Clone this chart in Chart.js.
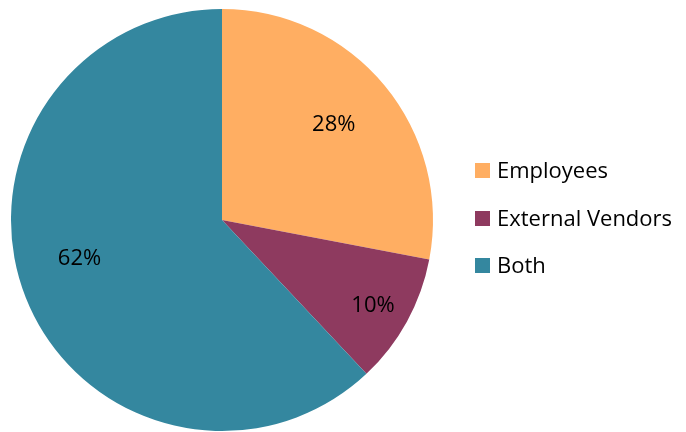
<!DOCTYPE html>
<html lang="en">
<head>
  <meta charset="UTF-8">
  <title>Who handles it</title>
  <script src="https://cdn.jsdelivr.net/npm/chart.js"></script>
  <style>
    html, body { margin: 0; padding: 0; background: #fff; }
    #wrap { width: 686px; height: 432px; }
  </style>
</head>
<body>
  <div id="wrap"><canvas id="pieChart" width="686" height="432"></canvas></div>

<script>
// categories and shares (percent)
const categories = ['Employees', 'External Vendors', 'Both'];
const shares = [28, 10, 62];
const sliceColors = ['#FFAE62', '#8E3A5F', '#34879F'];

const FONT = '"Open Sans", "Noto Sans", sans-serif';

// percent labels inside each slice
const sliceLabels = {
  id: 'sliceLabels',
  afterDatasetsDraw(chart) {
    const ctx = chart.ctx;
    const radial = [0.695, 0.822, 0.70]; // how far out along the radius each label sits
    const turn = [-0.013, 0.012, 0.11];   // small nudge off the slice bisector (radians)
    ctx.save();
    ctx.font = '22px ' + FONT;
    ctx.fillStyle = '#000';
    ctx.textAlign = 'center';
    ctx.textBaseline = 'middle';
    chart.getDatasetMeta(0).data.forEach((arc, i) => {
      const p = arc.getProps(['x', 'y', 'startAngle', 'endAngle', 'outerRadius']);
      const mid = (p.startAngle + p.endAngle) / 2 + turn[i];
      const r = p.outerRadius * radial[i];
      ctx.fillText(shares[i] + '%', p.x + Math.cos(mid) * r, p.y + Math.sin(mid) * r);
    });
    ctx.restore();
  }
};

// legend on the right, square swatches
const sideLegend = {
  id: 'sideLegend',
  afterDraw(chart) {
    const ctx = chart.ctx;
    const x0 = 475, base0 = 178, gap = 47.5, box = 15;
    ctx.save();
    ctx.font = '22px ' + FONT;
    ctx.textBaseline = 'alphabetic';
    chart.data.labels.forEach((label, i) => {
      const base = Math.round(base0 + i * gap);
      ctx.fillStyle = chart.data.datasets[0].backgroundColor[i];
      ctx.fillRect(x0, base - 15, box, box);
      ctx.fillStyle = '#000';
      ctx.fillText(label, x0 + 22, base);
    });
    ctx.restore();
  }
};

new Chart(document.getElementById('pieChart'), {
  type: 'pie',
  data: {
    labels: categories,
    datasets: [{
      data: shares,
      backgroundColor: sliceColors,
      borderWidth: 0
    }]
  },
  options: {
    responsive: false,
    animation: false,
    layout: { padding: { left: 11, right: 253, top: 9, bottom: 1 } },
    plugins: {
      legend: { display: false },
      tooltip: { enabled: false }
    }
  },
  plugins: [sliceLabels, sideLegend]
});
</script>
</body>
</html>
